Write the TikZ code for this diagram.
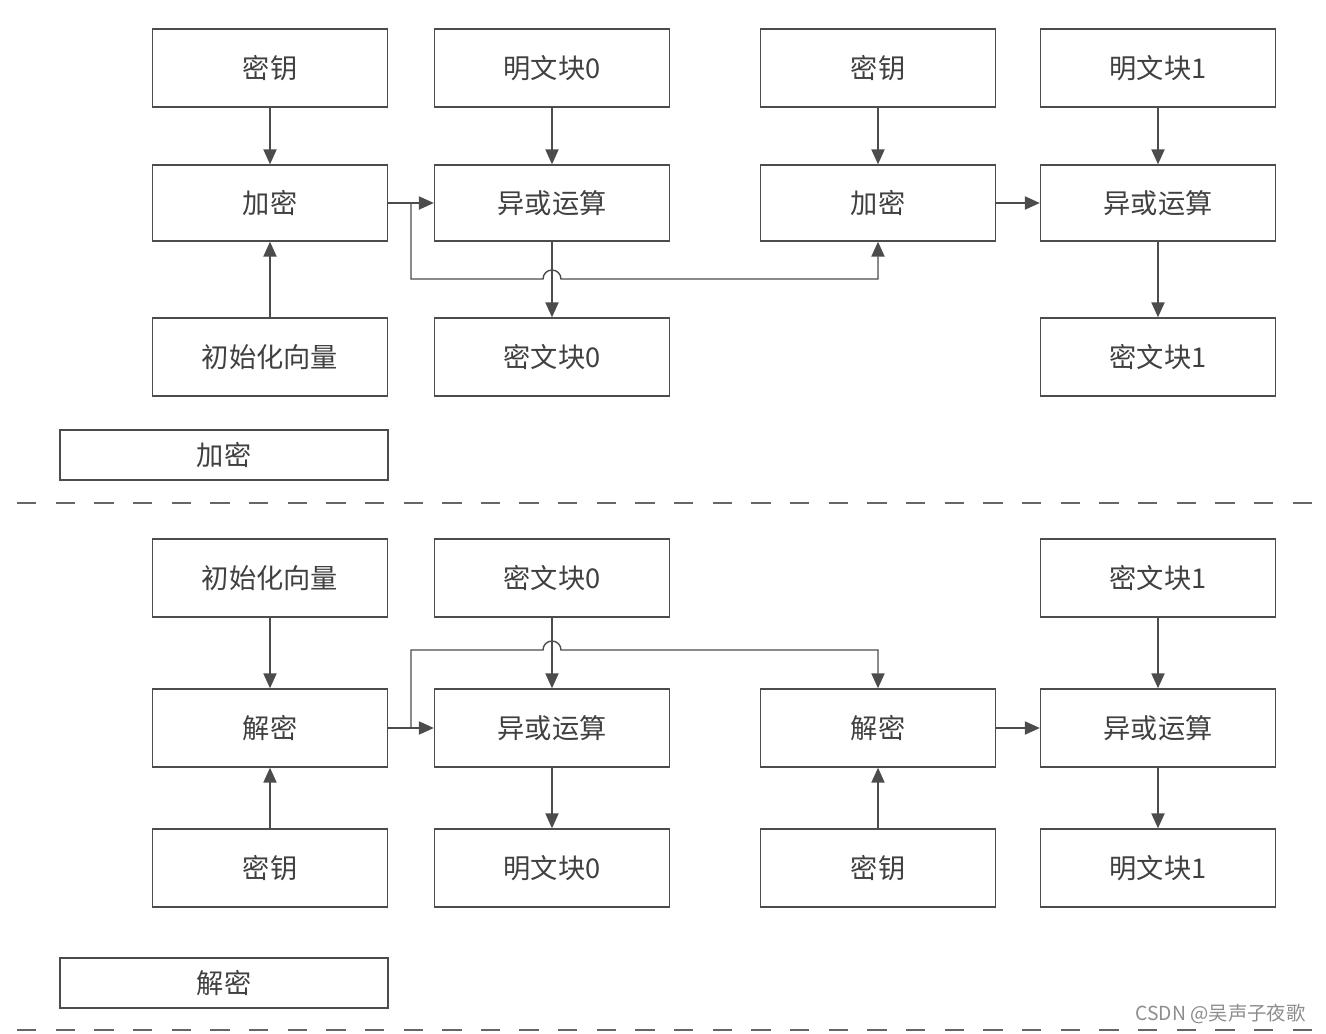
\documentclass[tikz,border=0pt]{standalone}
\usepackage{fontspec}
\setmainfont{Noto Sans CJK SC}
\usetikzlibrary{arrows.meta}
\tikzset{every path/.style={line width=0.8pt}}
\tikzset{box/.style={draw=black!70, minimum width=4.7cm, minimum height=1.56cm, text=black!75, font=\fontsize{15.5}{18}\selectfont}}
\tikzset{tag/.style={draw=black!70, minimum width=6.56cm, minimum height=1cm, text=black!75, font=\fontsize{15.5}{18}\selectfont}}
\tikzset{arr/.style={draw=black!70, -{Triangle[length=8.5pt,width=7.5pt]}}}
\tikzset{sep/.style={draw=black!60, dash pattern=on 11pt off 11pt}}

\begin{document}
\begin{tikzpicture}[x=0.02cm,y=-0.02cm]
\useasboundingbox (0,0) rectangle (1326,1034);
% encryption
\node[box] (k1) at (270,68) {密钥};
\node[box] (p0) at (552,68) {明文块0};
\node[box] (k2) at (878,68) {密钥};
\node[box] (p1) at (1158,68) {明文块1};
\node[box,minimum height=1.52cm] (e1) at (270,203) {加密};
\node[box,minimum height=1.52cm] (x1) at (552,203) {异或运算};
\node[box,minimum height=1.52cm] (e2) at (878,203) {加密};
\node[box,minimum height=1.52cm] (x2) at (1158,203) {异或运算};
\node[box] (iv) at (270,357) {初始化向量};
\node[box] (c0) at (552,357) {密文块0};
\node[box] (c1) at (1158,357) {密文块1};
\node[tag] (enc) at (224,455) {加密};
\draw[arr] (k1) -- (e1);
\draw[arr] (iv) -- (e1);
\draw[arr] (e1) -- (x1);
\draw[arr] (p0) -- (x1);
\draw[arr] (x1) -- (c0);
\draw[arr] (k2) -- (e2);
\draw[arr] (e2) -- (x2);
\draw[arr] (p1) -- (x2);
\draw[arr] (x2) -- (c1);
\coordinate (br1) at (411,203);
\draw[arr] (br1) -- (411,279) -- (543,279) arc[start angle=180,end angle=0,radius=0.18cm] -- (878,279) -- (e2.south);
\draw[sep] (17,503) -- (1326,503);
% decryption
\node[box] (ivb) at (270,578) {初始化向量};
\node[box] (c0b) at (552,578) {密文块0};
\node[box] (c1b) at (1158,578) {密文块1};
\node[box] (d1) at (270,728) {解密};
\node[box] (xb1) at (552,728) {异或运算};
\node[box] (d2) at (878,728) {解密};
\node[box] (xb2) at (1158,728) {异或运算};
\node[box] (kb1) at (270,868) {密钥};
\node[box] (pb0) at (552,868) {明文块0};
\node[box] (kb2) at (878,868) {密钥};
\node[box] (pb1) at (1158,868) {明文块1};
\node[tag] (dec) at (224,983) {解密};
\draw[arr] (ivb) -- (d1);
\draw[arr] (kb1) -- (d1);
\draw[arr] (d1) -- (xb1);
\draw[arr] (c0b) -- (xb1);
\draw[arr] (xb1) -- (pb0);
\draw[arr] (kb2) -- (d2);
\draw[arr] (d2) -- (xb2);
\draw[arr] (c1b) -- (xb2);
\draw[arr] (xb2) -- (pb1);
\coordinate (br2) at (411,728);
\draw[arr] (br2) -- (411,650) -- (543,650) arc[start angle=180,end angle=0,radius=0.18cm] -- (878,650) -- (d2.north);
\draw[sep] (17,1030) -- (1326,1030);
\node[anchor=east, text=black!45, font=\fontsize{11}{13}\selectfont] (wm) at (1312,1014) {CSDN @吴声子夜歌};
\end{tikzpicture}
\end{document}
